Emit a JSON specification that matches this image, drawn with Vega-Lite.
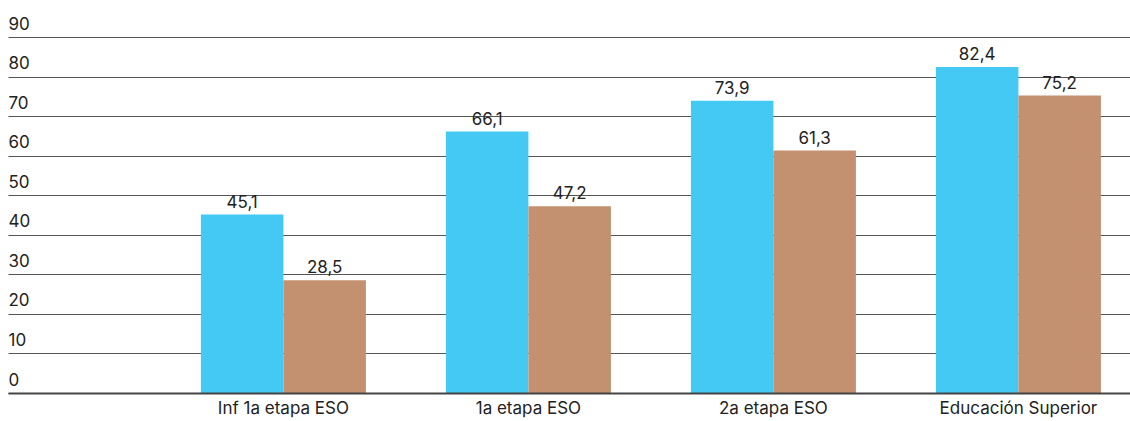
{
  "$schema": "https://vega.github.io/schema/vega-lite/v6.json",
  "width": 1122,
  "height": 356,
  "autosize": {"type": "none"},
  "padding": {"left": 8, "top": 37, "right": 0, "bottom": 28},
  "background": "white",
  "config": {
    "locale": {"number": {"decimal": ",", "thousands": ".", "grouping": [3], "currency": ["", " €"]}},
    "view": {"stroke": null},
    "font": "Inter"
  },
  "data": {
    "values": [
      {"nivel": "Inf 1a etapa ESO", "serie": "Serie 1", "valor": 45.1},
      {"nivel": "Inf 1a etapa ESO", "serie": "Serie 2", "valor": 28.5},
      {"nivel": "1a etapa ESO", "serie": "Serie 1", "valor": 66.1},
      {"nivel": "1a etapa ESO", "serie": "Serie 2", "valor": 47.2},
      {"nivel": "2a etapa ESO", "serie": "Serie 1", "valor": 73.9},
      {"nivel": "2a etapa ESO", "serie": "Serie 2", "valor": 61.3},
      {"nivel": "Educación Superior", "serie": "Serie 1", "valor": 82.4},
      {"nivel": "Educación Superior", "serie": "Serie 2", "valor": 75.2}
    ]
  },
  "encoding": {
    "x": {
      "field": "nivel",
      "type": "nominal",
      "sort": null,
      "title": null,
      "scale": {"paddingInner": 0.3265, "paddingOuter": 0.453, "align": 0.869},
      "axis": {
        "labelAngle": 0,
        "labelFontSize": 17,
        "labelColor": "#222222",
        "labelPadding": 7,
        "ticks": false,
        "domainColor": "#444444",
        "domainWidth": 2,
        "zindex": 1
      }
    },
    "xOffset": {"field": "serie", "type": "nominal", "scale": {"paddingInner": 0}},
    "y": {
      "field": "valor",
      "type": "quantitative",
      "title": null,
      "scale": {"domain": [0, 90]},
      "axis": {
        "values": [0, 10, 20, 30, 40, 50, 60, 70, 80, 90],
        "domain": false,
        "ticks": false,
        "tickSize": 0,
        "labelAlign": "left",
        "labelBaseline": "alphabetic",
        "labelPadding": 0,
        "labelOffset": -8,
        "labelFontSize": 17,
        "labelColor": "#222222",
        "gridColor": "#555555",
        "gridWidth": 1
      }
    }
  },
  "layer": [
    {
      "mark": {"type": "bar"},
      "encoding": {
        "color": {
          "field": "serie",
          "type": "nominal",
          "scale": {"domain": ["Serie 1", "Serie 2"], "range": ["#44C9F5", "#C3916F"]},
          "legend": null
        }
      }
    },
    {
      "mark": {"type": "text", "baseline": "alphabetic", "dy": -7, "fontSize": 17, "color": "#222222"},
      "encoding": {
        "text": {"field": "valor", "type": "quantitative", "format": ".1f"}
      }
    }
  ]
}
